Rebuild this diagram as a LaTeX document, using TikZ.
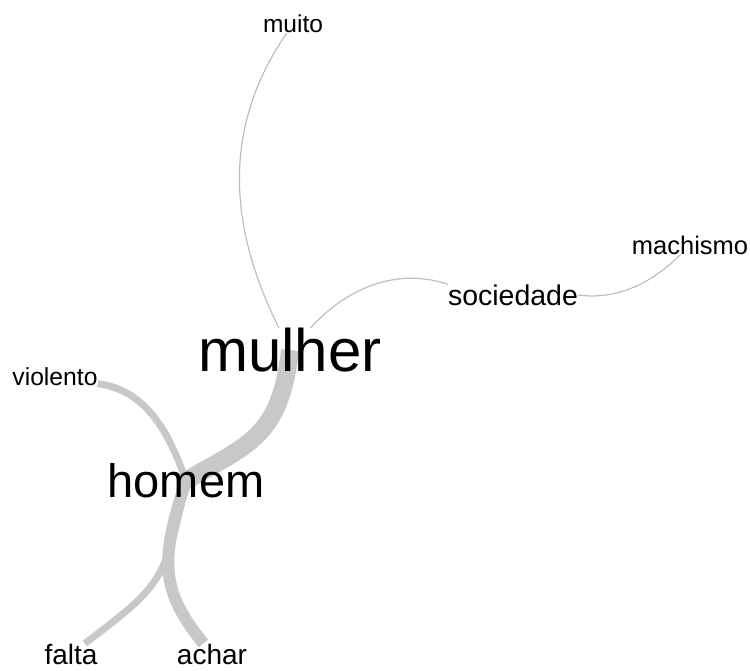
\documentclass[tikz,border=0pt]{standalone}
\usepackage{fontspec}
\setmainfont{Liberation Sans}
\usetikzlibrary{backgrounds}
\definecolor{edgegray}{RGB}{200,200,200}
\definecolor{weakgray}{RGB}{190,190,190}

\begin{document}
\begin{tikzpicture}[x=1pt,y=-1pt,
  word/.style={inner sep=0pt, text=black},
  link/.style={draw=edgegray},
  weak/.style={draw=weakgray, line width=1.2pt}]
\useasboundingbox (0,0) rectangle (750,671);
% nodes
\node[word, font=\fontsize{60pt}{60pt}\selectfont] (mulher) at (290,350) {mulher};
\node[word, font=\fontsize{47pt}{47pt}\selectfont] (homem) at (186,481) {homem};
\node[word, font=\fontsize{28.5pt}{28.5pt}\selectfont] (sociedade) at (513,295) {sociedade};
\node[word, font=\fontsize{25.5pt}{25.5pt}\selectfont] (machismo) at (690,245) {machismo};
\node[word, font=\fontsize{24.5pt}{24.5pt}\selectfont] (muito) at (293,24) {muito};
\node[word, font=\fontsize{24.7pt}{24.7pt}\selectfont] (violento) at (55,377) {violento};
\node[word, font=\fontsize{28pt}{28pt}\selectfont] (falta) at (71,654) {falta};
\node[word, font=\fontsize{28pt}{28pt}\selectfont] (achar) at (212,654) {achar};

% edges
\begin{scope}[on background layer]
 \draw[link, line width=18pt] (mulher.center) .. controls (280,440) and (245,445) .. (homem.center);
 \draw[link, line width=12pt] (homem.center) .. controls (160,560) and (160,590) .. (achar);
 \draw[link, line width=7pt] (homem.center) .. controls (165,582) and (162,585) .. (falta);
 \draw[link, line width=7pt] (homem.center) .. controls (165,420) and (140,390) .. (violento);
 \draw[weak] (mulher) .. controls (230,230) and (220,130) .. (muito);
 \draw[weak] (mulher) .. controls (350,285) and (400,268) .. (sociedade.north west);
 \draw[weak] (sociedade.east) .. controls (615,300) and (650,285) .. (machismo);
\end{scope}
\end{tikzpicture}
\end{document}
